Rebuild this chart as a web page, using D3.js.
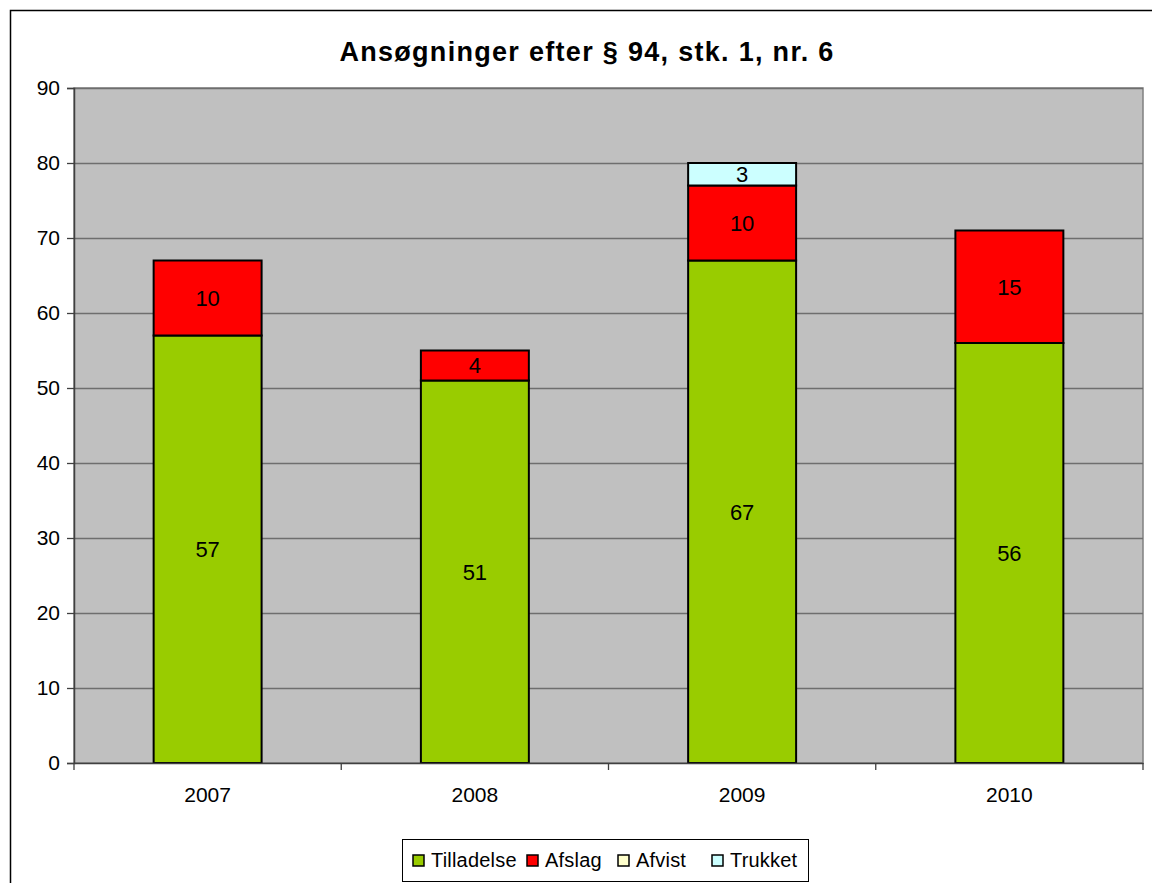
<!DOCTYPE html>
<meta charset="utf-8">
<style>
body { margin: 0; background: #fff; }
text { font-family: "Liberation Sans", Arial, sans-serif; fill: #000; }
</style>
<body>
<svg width="1152" height="883"></svg>
</body>
<script src="https://cdn.jsdelivr.net/npm/d3@7"></script>
<script>

var years = ["2007", "2008", "2009", "2010"];
var seriesNames = ["Tilladelse", "Afslag", "Afvist", "Trukket"];
var tilladelse = [57, 51, 67, 56];
var afslag = [10, 4, 10, 15];
var afvist = [0, 0, 0, 0];
var trukket = [0, 0, 3, 0];
var colors = ["#99cc00", "#ff0000", "#ffffcc", "#ccffff"];
var yTicks = [0, 10, 20, 30, 40, 50, 60, 70, 80, 90];

var svg = d3.select("svg");

var rows = years.map((y, i) => ({
  year: y,
  Tilladelse: tilladelse[i],
  Afslag: afslag[i],
  Afvist: afvist[i],
  Trukket: trukket[i]
}));
var stacked = d3.stack().keys(seriesNames)(rows);

var plot = { left: 74, right: 1143, top: 88, bottom: 763 };

var x = d3.scaleBand()
    .domain(years)
    .range([plot.left, plot.right])
    .paddingInner(0.596)
    .paddingOuter(0.298);
var xb = d3.scaleBand().domain(years).range([plot.left, plot.right]);

var y = d3.scaleLinear().domain([0, 90]).range([plot.bottom, plot.top]);

// outer chart border (right and bottom run off the picture)
svg.append("path")
    .attr("d", "M10.5,883 V10.5 H1152")
    .attr("fill", "none")
    .attr("stroke", "#000")
    .attr("stroke-width", 1.5);

// plot background
svg.append("rect")
    .attr("x", plot.left).attr("y", plot.top)
    .attr("width", plot.right - plot.left)
    .attr("height", plot.bottom - plot.top)
    .attr("fill", "#c0c0c0")
    .attr("stroke", "#808080")
    .attr("stroke-width", 1.5);

// gridlines
svg.append("g")
  .selectAll("line")
  .data(yTicks.filter(t => t > 0))
  .enter().append("line")
    .attr("x1", plot.left).attr("x2", plot.right)
    .attr("y1", d => Math.round(y(d)) + 0.5)
    .attr("y2", d => Math.round(y(d)) + 0.5)
    .attr("stroke", "#6e6e6e")
    .attr("stroke-width", 1.3);

// bars
var layer = svg.append("g")
  .selectAll("g")
  .data(stacked)
  .enter().append("g")
    .attr("fill", (d, i) => colors[i]);

layer.selectAll("rect")
  .data(d => d.filter(p => p[1] - p[0] > 0))
  .enter().append("rect")
    .attr("x", d => x(d.data.year))
    .attr("width", x.bandwidth())
    .attr("y", d => y(d[1]))
    .attr("height", d => y(d[0]) - y(d[1]))
    .attr("stroke", "#000")
    .attr("stroke-width", 2);

// value labels
layer.selectAll("text")
  .data(d => d.filter(p => p[1] - p[0] > 0))
  .enter().append("text")
    .attr("x", d => x(d.data.year) + x.bandwidth() / 2)
    .attr("y", d => (y(d[0]) + y(d[1])) / 2)
    .attr("dy", "0.36em")
    .attr("text-anchor", "middle")
    .style("font-size", "22px")
    .text(d => d[1] - d[0]);

// y axis
var yAxis = svg.append("g")
    .attr("transform", `translate(${plot.left},0)`)
    .call(d3.axisLeft(y).tickValues(yTicks).tickSize(7).tickPadding(7));
yAxis.select(".domain").attr("stroke", "#404040").attr("stroke-width", 1.5);
yAxis.selectAll(".tick line").attr("stroke", "#404040").attr("stroke-width", 1.3);
yAxis.selectAll("text").style("font-size", "21px").style("font-family", "Liberation Sans, Arial, sans-serif");

// x axis
var xAxis = svg.append("g")
    .attr("transform", `translate(0,${plot.bottom})`)
    .call(d3.axisBottom(x).tickSize(0).tickPadding(24));
xAxis.select(".domain").attr("stroke", "#404040").attr("stroke-width", 1.5);
xAxis.selectAll("text").style("font-size", "21px").style("font-family", "Liberation Sans, Arial, sans-serif");
xAxis.selectAll(".sep")
  .data(years.concat(["end"]))
  .enter().append("line")
    .attr("class", "sep")
    .attr("x1", (d, i) => i < years.length ? xb(d) : plot.right)
    .attr("x2", (d, i) => i < years.length ? xb(d) : plot.right)
    .attr("y1", 0).attr("y2", 7)
    .attr("stroke", "#404040")
    .attr("stroke-width", 1.3);

// title
svg.append("text")
    .attr("x", 587)
    .attr("y", 61)
    .attr("text-anchor", "middle")
    .style("font-size", "27px")
    .attr("font-weight", "bold")
    .attr("letter-spacing", 1.3)
    .text("Ansøgninger efter § 94, stk. 1, nr. 6");

// legend
var legend = svg.append("g");
legend.append("rect")
    .attr("x", 402.5).attr("y", 839.5)
    .attr("width", 406).attr("height", 42)
    .attr("fill", "#fff")
    .attr("stroke", "#000")
    .attr("stroke-width", 1);

var legendX = [413, 527, 618, 712];
var item = legend.selectAll(".item")
  .data(seriesNames)
  .enter().append("g")
    .attr("transform", (d, i) => `translate(${legendX[i]},860)`);
item.append("rect")
    .attr("x", 0).attr("y", -5)
    .attr("width", 11).attr("height", 11)
    .attr("fill", (d, i) => colors[i])
    .attr("stroke", "#000")
    .attr("stroke-width", 1.5);
item.append("text")
    .attr("x", 18)
    .attr("y", 0)
    .attr("dy", "0.36em")
    .style("font-size", "20px")
    .attr("letter-spacing", 0.2)
    .text(d => d);

</script>
